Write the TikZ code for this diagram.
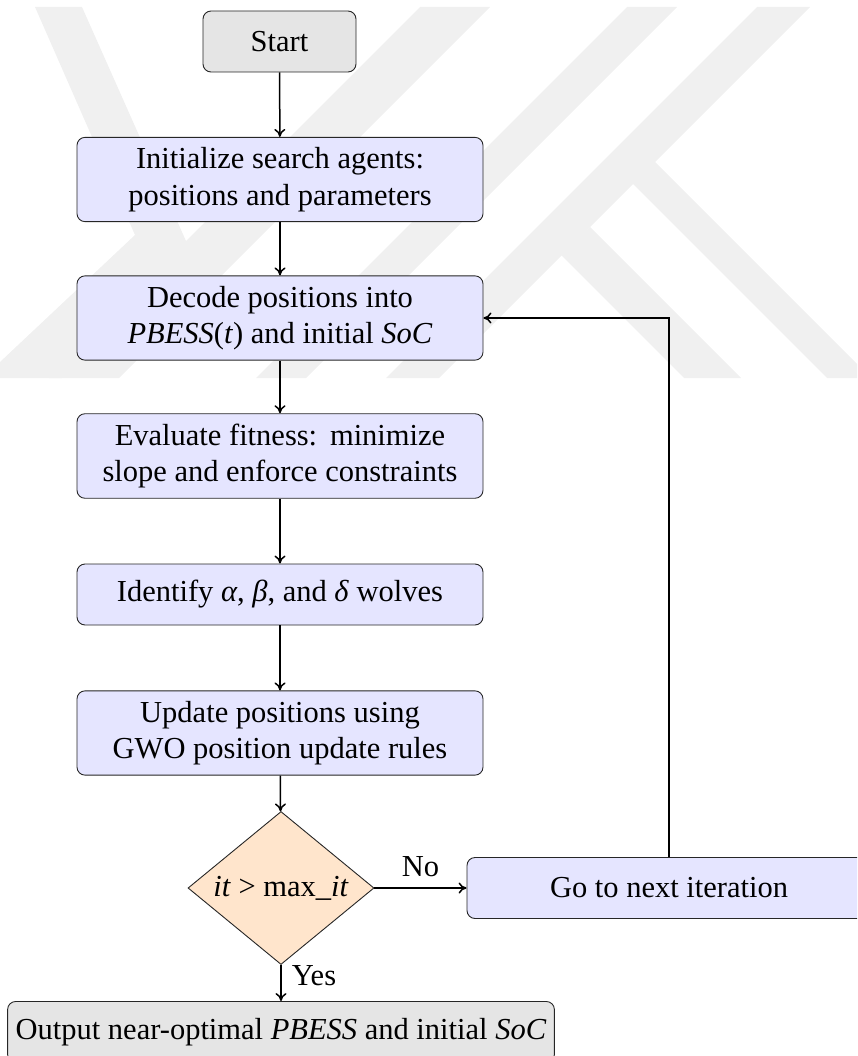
\documentclass[tikz,border=0pt]{standalone}
\usepackage{fontspec}
\setmainfont{Liberation Serif}
\usetikzlibrary{shapes.geometric,arrows.meta}

\tikzset{
  boxbase/.style={draw=black!85, line width=0.9pt, rounded corners=8pt,
    align=center, inner xsep=8pt, inner ysep=10pt,
    font=\fontsize{30.5}{36.6}\selectfont},
  procbox/.style={boxbase, fill=blue!10, minimum width=406pt, minimum height=61pt},
  termbox/.style={boxbase, fill=gray!20, minimum height=61pt},
  decision/.style={diamond, draw=black!85, fill=orange!20, line width=0.9pt,
    shape aspect=1.3, inner sep=0pt, minimum width=186pt, minimum height=153pt,
    font=\fontsize{30.5}{36.6}\selectfont},
  flow/.style={-{To[length=8pt,width=11pt]}, line width=1.5pt},
  edgelabel/.style={inner sep=2pt, font=\fontsize{30.5}{36.6}\selectfont},
  wmark/.style={fill=black!6, draw=none}
}

\begin{document}
\begin{tikzpicture}[x=1pt, y=-1pt]
\useasboundingbox (0,0) rectangle (857,1056);
\clip (0,0) rectangle (857,1056);

% faint background logo bands
\begin{scope}
  \clip (0,7) rectangle (857,378);
  \fill[wmark] (35,7) -- (82,7) -- (190,250) -- (62,378) -- (0,378) -- (0,362) -- (135,235) -- cycle;
  \fill[wmark] (420,7) -- (490,7) -- (119,378) -- (49,378) -- cycle;
  \fill[wmark] (627,7) -- (677,7) -- (306,378) -- (256,378) -- cycle;
  \fill[wmark] (757,7) -- (810,7) -- (439,378) -- (386,378) -- cycle;
  \fill[wmark] (655,162) -- (871,378) -- (827,378) -- (620,171) -- cycle;
  \fill[wmark] (590,227) -- (741,378) -- (684,378) -- (560,254) -- cycle;
\end{scope}

% process steps
\node[termbox, minimum width=153pt] (start) at (279.5,41.5) {Start};
\node[procbox] (init) at (280,179.5) {Initialize search agents:\\positions and parameters};
\node[procbox] (decode) at (280,318) {Decode positions into\\\textit{PBESS}(\textit{t}) and initial \textit{SoC}};
\node[procbox] (eval) at (280,456) {Evaluate fitness:\hspace{0.42em}minimize\\slope and enforce constraints};
\node[procbox] (ident) at (280,594.5) {Identify \textit{α}, \textit{β}, and \textit{δ} wolves};
\node[procbox] (update) at (280,733) {Update positions using\\GWO position update rules};
\node[decision] (check) at (281,888) {\textit{it} > max\_\textit{it}};
\node[procbox, minimum width=404pt] (next) at (669,888) {Go to next iteration};
\node[termbox, minimum width=538pt] (out) at (281,1032) {Output near-optimal \textit{PBESS} and initial \textit{SoC}};

% connectors
\draw[flow] (start) -- (init);
\draw[flow] (init) -- (decode);
\draw[flow] (decode) -- (eval);
\draw[flow] (eval) -- (ident);
\draw[flow] (ident) -- (update);
\draw[flow] (update) -- (check);
\draw[flow] (check) -- node[edgelabel, above=8pt] {No} (next);
\draw[flow] (check) -- node[edgelabel, pos=0.3, anchor=west, xshift=8pt] {Yes} (out);
\draw[flow] (next.north) |- (decode.east);
\end{tikzpicture}
\end{document}
